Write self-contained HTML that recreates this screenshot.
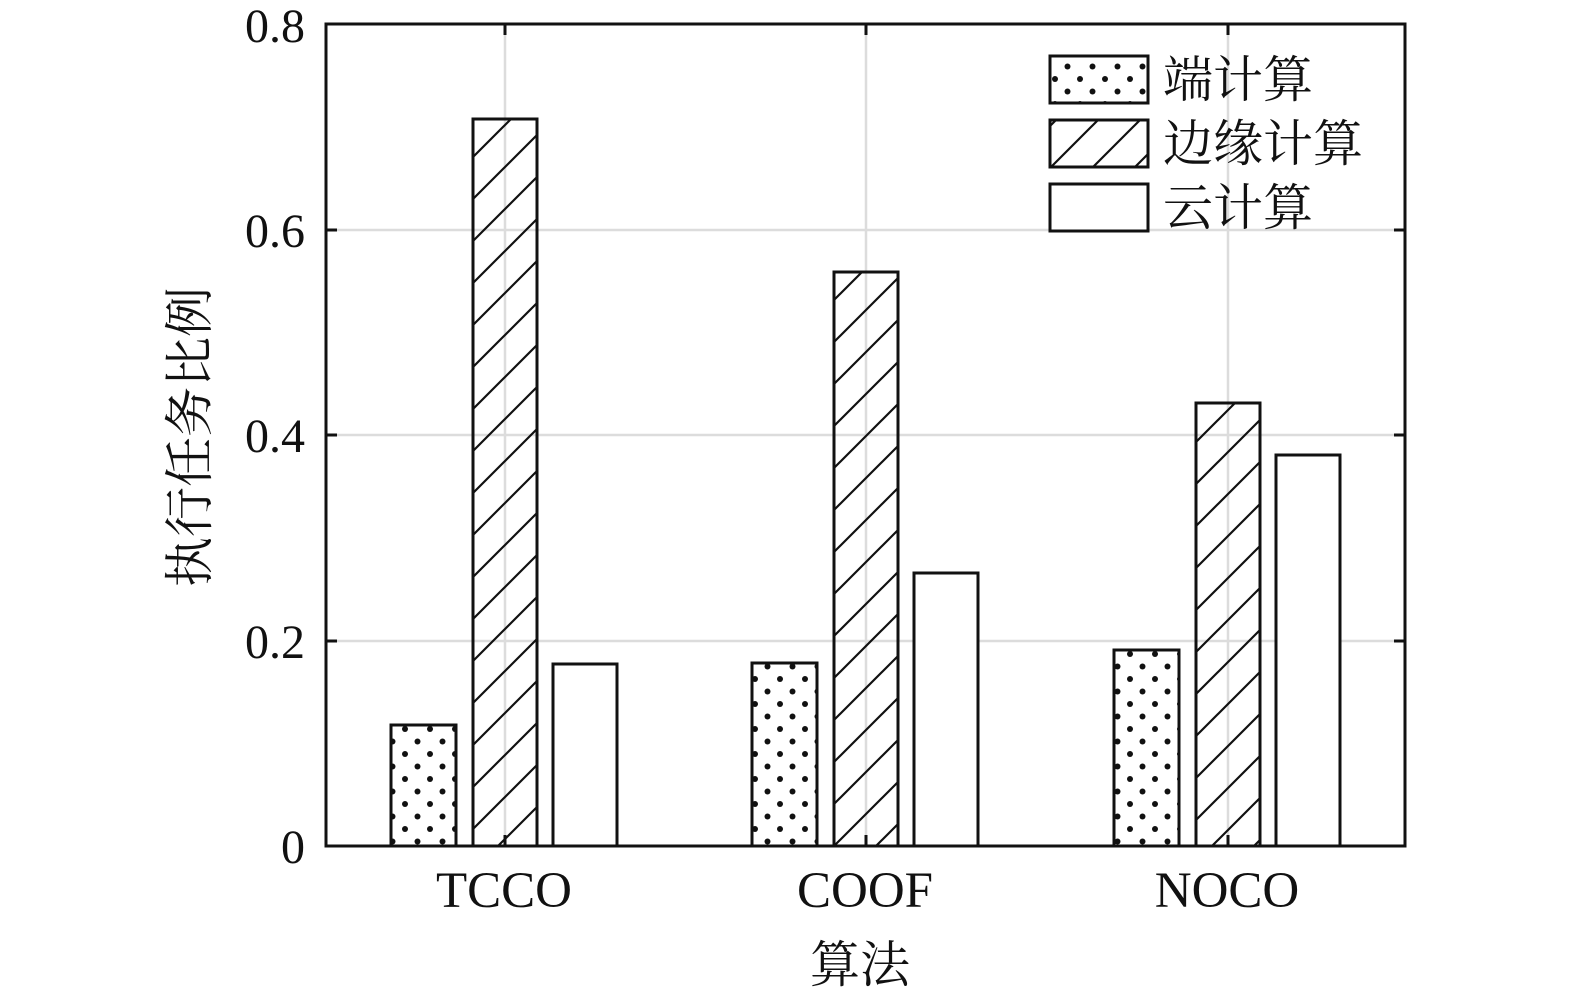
<!DOCTYPE html>
<html><head><meta charset="utf-8"><style>html,body{margin:0;padding:0;background:#fff;overflow:hidden}svg{display:block}</style></head><body>
<svg width="1575" height="994" xmlns="http://www.w3.org/2000/svg" font-family="'Liberation Serif','Noto Serif CJK SC',serif">
<defs>
<pattern id="dots" patternUnits="userSpaceOnUse" width="25" height="25" x="0" y="0">
<circle cx="5" cy="4" r="3" fill="#111"/><circle cx="17.5" cy="16.5" r="3" fill="#111"/>
</pattern>
<pattern id="hatch" patternUnits="userSpaceOnUse" width="42" height="42">
<path d="M-2,44 L44,-2 M-23,23 L23,-23 M19,65 L65,19" stroke="#111" stroke-width="2.2"/>
</pattern>
</defs>
<g stroke="#dcdcdc" stroke-width="2.5">
<line x1="505" y1="24" x2="505" y2="846"/><line x1="866" y1="24" x2="866" y2="846"/><line x1="1228" y1="24" x2="1228" y2="846"/>
<line x1="326" y1="641" x2="1405" y2="641"/><line x1="326" y1="435" x2="1405" y2="435"/><line x1="326" y1="230" x2="1405" y2="230"/>
</g>
<g stroke="#111" stroke-width="3">
<rect x="391" y="725" width="65" height="121" fill="url(#dots)"/>
<rect x="473" y="119" width="64" height="727" fill="url(#hatch)"/>
<rect x="553" y="664" width="64" height="182" fill="#fff"/>
<rect x="752" y="663" width="65" height="183" fill="url(#dots)"/>
<rect x="834" y="272" width="64" height="574" fill="url(#hatch)"/>
<rect x="914" y="573" width="64" height="273" fill="#fff"/>
<rect x="1114" y="650" width="65" height="196" fill="url(#dots)"/>
<rect x="1196" y="403" width="64" height="443" fill="url(#hatch)"/>
<rect x="1276" y="455" width="64" height="391" fill="#fff"/>
</g>
<rect x="326" y="24" width="1079" height="822" fill="none" stroke="#111" stroke-width="3"/>
<g stroke="#111" stroke-width="3">
<line x1="326" y1="641" x2="337" y2="641"/><line x1="326" y1="435" x2="337" y2="435"/><line x1="326" y1="230" x2="337" y2="230"/>
<line x1="1405" y1="641" x2="1394" y2="641"/><line x1="1405" y1="435" x2="1394" y2="435"/><line x1="1405" y1="230" x2="1394" y2="230"/>
<line x1="505" y1="846" x2="505" y2="835"/><line x1="866" y1="846" x2="866" y2="835"/><line x1="1228" y1="846" x2="1228" y2="835"/>
<line x1="505" y1="24" x2="505" y2="35"/><line x1="866" y1="24" x2="866" y2="35"/><line x1="1228" y1="24" x2="1228" y2="35"/>
</g>
<g font-size="48" fill="#111" text-anchor="end">
<text x="305" y="863">0</text><text x="305" y="658">0.2</text><text x="305" y="452">0.4</text><text x="305" y="247">0.6</text><text x="305" y="42">0.8</text>
</g>
<g font-size="51" fill="#111" text-anchor="middle">
<text x="504" y="907">TCCO</text><text x="865" y="907">COOF</text><text x="1227" y="907">NOCO</text>
</g>
<text x="860" y="982" font-size="50" fill="#111" text-anchor="middle">算法</text>
<text transform="translate(207,437) rotate(-90)" font-size="50" fill="#111" text-anchor="middle">执行任务比例</text>
<g stroke="#111" stroke-width="3">
<rect x="1050" y="56" width="98" height="47" fill="url(#dots)"/>
<rect x="1050" y="120" width="98" height="47" fill="url(#hatch)"/>
<rect x="1050" y="184" width="98" height="47" fill="#fff"/>
</g>
<g font-size="50" fill="#111">
<text x="1163" y="97">端计算</text><text x="1163" y="161">边缘计算</text><text x="1163" y="225">云计算</text>
</g>
</svg>
</body></html>
